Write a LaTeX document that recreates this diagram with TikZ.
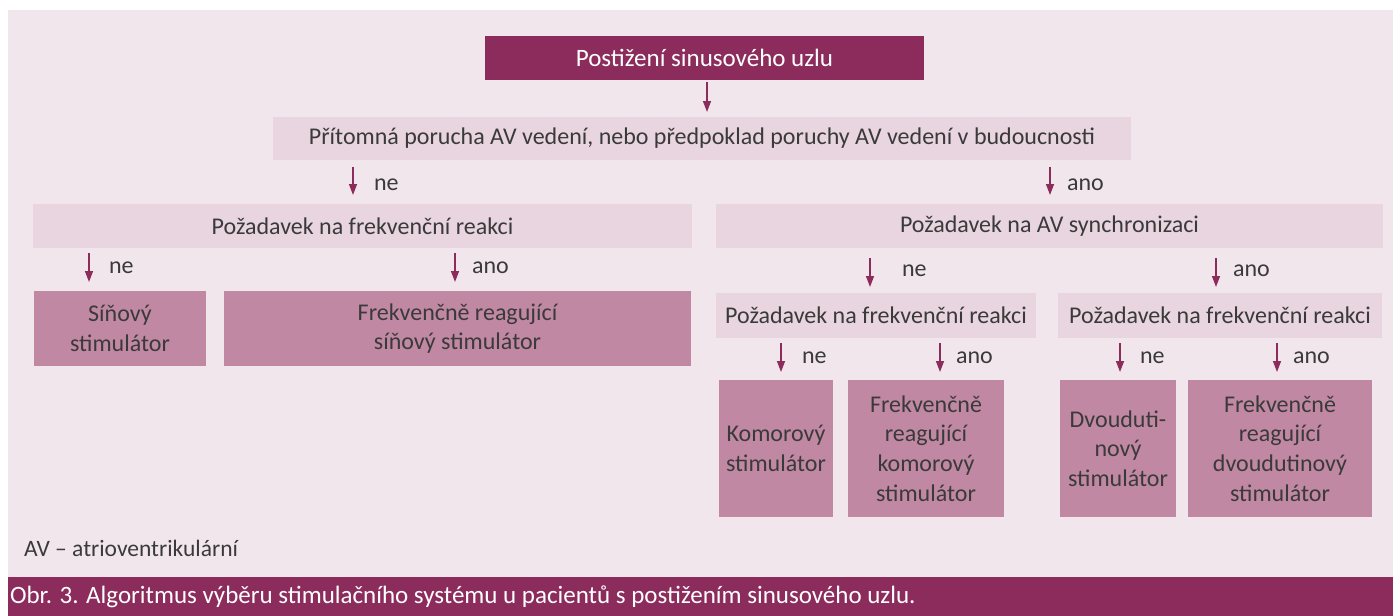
\documentclass[tikz,border=0pt]{standalone}
\usepackage{fontspec}
\setmainfont{Carlito}
\usetikzlibrary{arrows.meta}
\definecolor{plum}{HTML}{8C2C5C}
\definecolor{panel}{HTML}{F2E6ED}
\definecolor{lightbox}{HTML}{E8D5DF}
\definecolor{midbox}{HTML}{C188A3}
\definecolor{txt}{HTML}{3A3A3A}
\tikzset{
  every node/.style={inner sep=0pt, outer sep=0pt},
  darkbox/.style={fill=plum, text=white, font=\fontsize{25}{29}\selectfont, align=center},
  qbox/.style={fill=lightbox, text=txt, font=\fontsize{24}{28}\selectfont, align=center},
  leaf/.style={fill=midbox, text=txt, font=\fontsize{24}{29.5}\selectfont, align=center},
  lbl/.style={text=txt, font=\fontsize{24}{28}\selectfont, anchor=west},
  arr/.style={draw=plum, line width=1.4pt, -{Stealth[length=11pt,width=8pt,inset=0pt]}},
}
\begin{document}
\begin{tikzpicture}[x=1pt,y=-1pt]
\useasboundingbox (0,0) rectangle (1393,616);
\fill[white] (0,0) rectangle (1393,616);
\fill[panel] (8,10) rectangle (1393,577);
\fill[plum] (8,577) rectangle (1393,616);
% boxes
\node[darkbox, minimum width=439pt, minimum height=44pt] (top) at (704.5,58) {Postižení sinusového uzlu};
\node[qbox, minimum width=858pt, minimum height=43pt] (q1) at (702,138.5) {Přítomná porucha AV vedení, nebo předpoklad poruchy AV vedení v budoucnosti};
\node[qbox, minimum width=659pt, minimum height=44pt] (fr1) at (362.5,226) {Požadavek na frekvenční reakci};
\node[qbox, minimum width=667pt, minimum height=44pt] (av) at (1049.5,226) {Požadavek na AV synchronizaci};
\node[leaf, minimum width=172pt, minimum height=75pt] (l1) at (120,328.5) {Síňový\\stimulátor};
\node[leaf, minimum width=467pt, minimum height=75pt] (l2) at (457.5,328.5) {Frekvenčně reagující\\síňový stimulátor};
\node[qbox, minimum width=320pt, minimum height=45pt] (fr2) at (876,315.5) {Požadavek na frekvenční reakci};
\node[qbox, minimum width=324pt, minimum height=45pt] (fr3) at (1220,315.5) {Požadavek na frekvenční reakci};
\node[leaf, minimum width=114pt, minimum height=137pt] (l3) at (776,448.5) {Komorový\\stimulátor};
\node[leaf, minimum width=156pt, minimum height=137pt] (l4) at (926,448.5) {Frekvenčně\\reagující\\komorový\\stimulátor};
\node[leaf, minimum width=116pt, minimum height=137pt] (l5) at (1118,448.5) {Dvouduti-\\nový\\stimulátor};
\node[leaf, minimum width=184pt, minimum height=137pt] (l6) at (1280,448.5) {Frekvenčně\\reagující\\dvoudutinový\\stimulátor};
% arrows
\draw[arr, shorten <=2pt, shorten >=5pt] (top.south -| 707,0) -- (q1.north -| 707,0);
\draw[arr, shorten <=7pt, shorten >=9pt] (q1.south -| 353,0) -- (fr1.north -| 353,0);
\node[lbl] (n1) at (374,185) {ne};
\draw[arr, shorten <=7pt, shorten >=9pt] (q1.south -| 1050,0) -- (av.north -| 1050,0);
\node[lbl] (y1) at (1067,185) {ano};
\draw[arr, shorten <=5pt, shorten >=9pt] (fr1.south -| 89,0) -- (l1.north -| 89,0);
\node[lbl] (n2) at (109,268) {ne};
\draw[arr, shorten <=5pt, shorten >=9pt] (fr1.south -| 455,0) -- (l2.north -| 455,0);
\node[lbl] (y2) at (472,268) {ano};
\draw[arr, shorten <=10pt, shorten >=6pt] (av.south -| 870,0) -- (fr2.north -| 870,0);
\node[lbl] (n3) at (902,271) {ne};
\draw[arr, shorten <=10pt, shorten >=6pt] (av.south -| 1216,0) -- (fr3.north -| 1216,0);
\node[lbl] (y3) at (1233,271) {ano};
\draw[arr, shorten <=5pt, shorten >=8pt] (fr2.south -| 781,0) -- (l3.north -| 781,0);
\node[lbl] (n4) at (802,358) {ne};
\draw[arr, shorten <=5pt, shorten >=8pt] (fr2.south -| 940,0) -- (l4.north -| 940,0);
\node[lbl] (y4) at (956,358) {ano};
\draw[arr, shorten <=5pt, shorten >=8pt] (fr3.south -| 1120,0) -- (l5.north -| 1120,0);
\node[lbl] (n5) at (1140,358) {ne};
\draw[arr, shorten <=5pt, shorten >=8pt] (fr3.south -| 1277,0) -- (l6.north -| 1277,0);
\node[lbl] (y5) at (1293,358) {ano};
% legend and caption
\node[lbl, font=\fontsize{23.5}{27}\selectfont] (leg) at (24,548) {AV – atrioventrikulární};
\node[lbl, text=white, font=\fontsize{25}{29}\selectfont] (cap) at (10,597) {Obr. 3. Algoritmus výběru stimulačního systému u pacientů s postižením sinusového uzlu.};
\end{tikzpicture}
\end{document}
